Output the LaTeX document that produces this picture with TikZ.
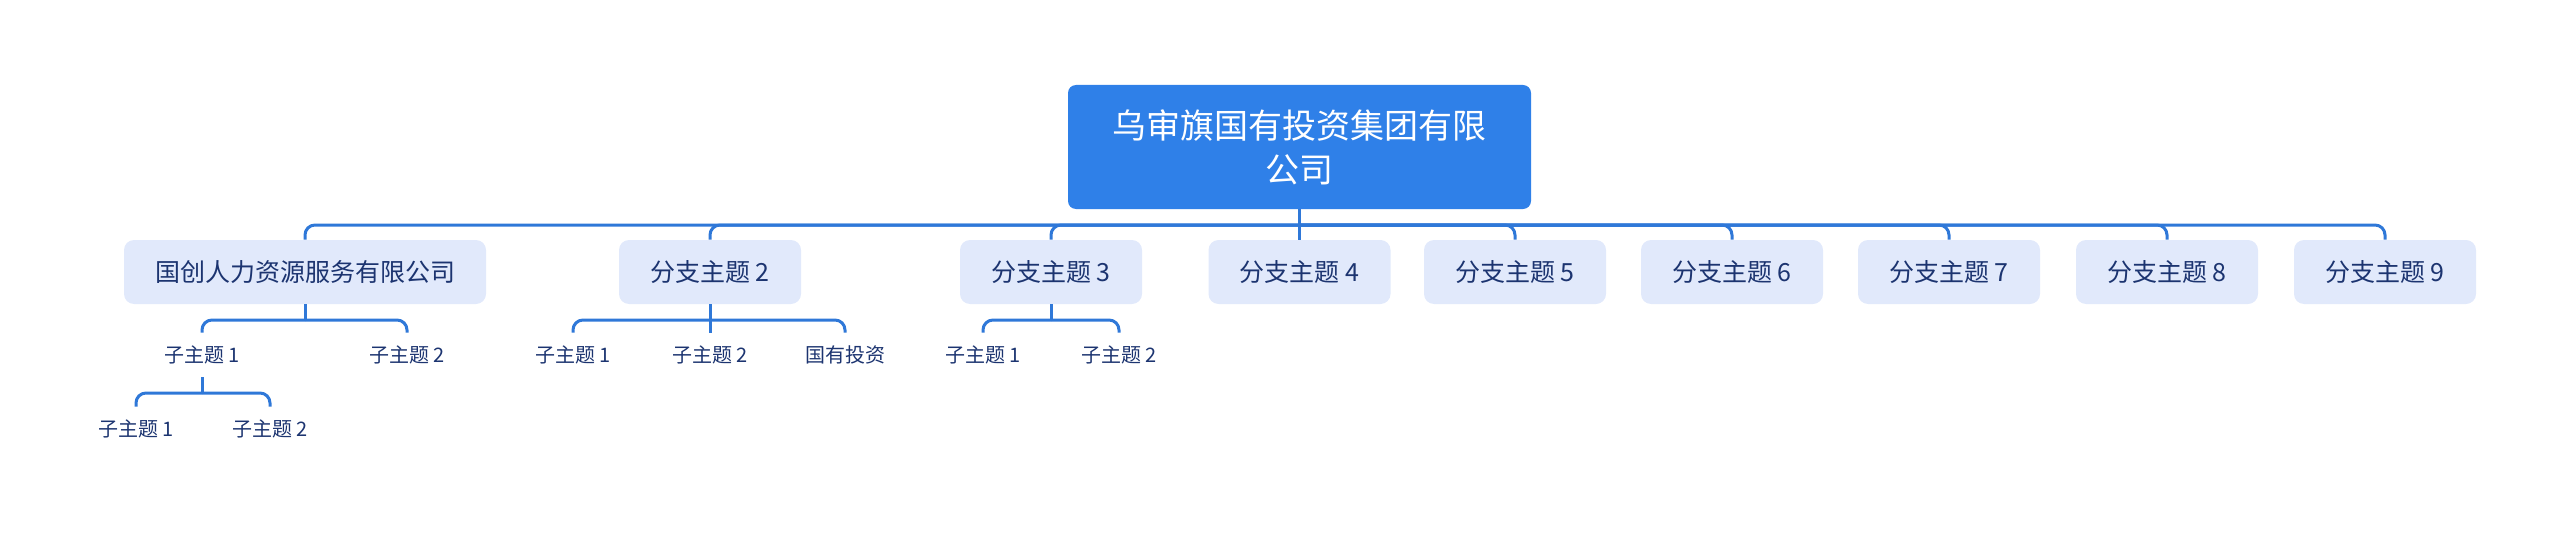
\documentclass[tikz,border=0pt]{standalone}
\usepackage{fontspec}
\setmainfont{Noto Sans CJK SC}
\definecolor{rootblue}{HTML}{2F80E8}
\definecolor{pale}{HTML}{E1E9FB}
\definecolor{navy}{HTML}{1C3470}
\definecolor{wire}{HTML}{2F78D8}

\begin{document}
\begin{tikzpicture}[x=0.5pt,y=-0.5pt,
      root/.style={fill=rootblue,text=white,rounded corners=4pt,align=center,
                   minimum width=231.5pt,minimum height=62pt,font=\fontsize{17}{22}\selectfont},
      branch/.style={fill=pale,text=navy,rounded corners=5pt,inner xsep=15.5pt,
                   minimum width=91pt,minimum height=32pt,font=\fontsize{12.5}{15}\selectfont},
      leaf/.style={text=navy,inner sep=0pt,minimum height=22pt,font=\fontsize{10}{12}\selectfont},
      link/.style={draw=wire,line width=1.5pt,rounded corners=5pt}]
    \useasboundingbox (0,0) rectangle (2560,535);
    \node[root] (top) at (1299.5,147) {乌审旗国有投资集团有限\\公司};
    \node[branch] (b1) at (305,272) {国创人力资源服务有限公司};
    \node[branch] (b2) at (710,272) {分支主题 2};
    \node[branch] (b3) at (1051,272) {分支主题 3};
    \node[branch] (b4) at (1299.5,272) {分支主题 4};
    \node[branch] (b5) at (1515,272) {分支主题 5};
    \node[branch] (b6) at (1732,272) {分支主题 6};
    \node[branch] (b7) at (1949,272) {分支主题 7};
    \node[branch] (b8) at (2167,272) {分支主题 8};
    \node[branch] (b9) at (2385,272) {分支主题 9};
    \coordinate (topbus) at (1299.5,225);
    \draw[link] (top.south) -- (topbus);
    \foreach \n in {b1,b2,b3,b4,b5,b6,b7,b8,b9}
      \draw[link] (topbus) -| (\n.north);

    % under the first branch
    \node[leaf] (b1a) at (202,355) {子主题 1};
    \node[leaf] (b1b) at (407,355) {子主题 2};
    \coordinate (b1bus) at (305,320);
    \draw[link] (b1.south) -- (b1bus);
    \foreach \n in {b1a,b1b} \draw[link] (b1bus) -| (\n.north);
    \node[leaf] (b1a1) at (136,429) {子主题 1};
    \node[leaf] (b1a2) at (270,429) {子主题 2};
    \coordinate (b1abus) at (202,393);
    \draw[link] (b1a.south) -- (b1abus);
    \foreach \n in {b1a1,b1a2} \draw[link] (b1abus) -| (\n.north);

    % under branch 2
    \node[leaf] (b2a) at (573,355) {子主题 1};
    \node[leaf] (b2b) at (710,355) {子主题 2};
    \node[leaf] (b2c) at (845,355) {国有投资};
    \coordinate (b2bus) at (710,320);
    \draw[link] (b2.south) -- (b2bus);
    \foreach \n in {b2a,b2b,b2c} \draw[link] (b2bus) -| (\n.north);

    % under branch 3
    \node[leaf] (b3a) at (983,355) {子主题 1};
    \node[leaf] (b3b) at (1119,355) {子主题 2};
    \coordinate (b3bus) at (1051,320);
    \draw[link] (b3.south) -- (b3bus);
    \foreach \n in {b3a,b3b} \draw[link] (b3bus) -| (\n.north);
\end{tikzpicture}
\end{document}
